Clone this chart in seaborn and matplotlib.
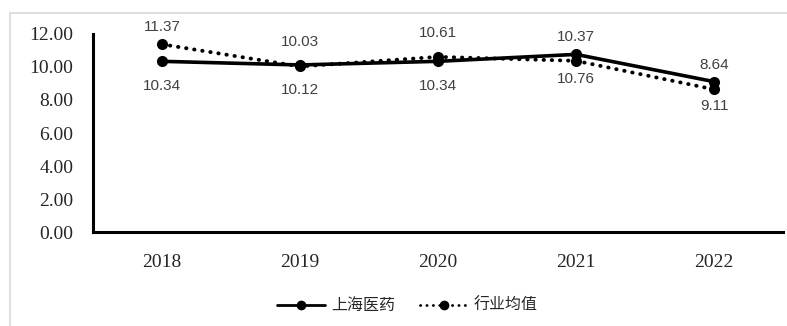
import numpy as np
import pandas as pd
import seaborn as sns
import matplotlib.pyplot as plt
from matplotlib.patches import Rectangle
from matplotlib.lines import Line2D

years = ['2018', '2019', '2020', '2021', '2022']
sh_pharma = [10.34, 10.12, 10.34, 10.76, 9.11]   # 上海医药
industry = [11.37, 10.03, 10.61, 10.37, 8.64]    # 行业均值
y_ticks = [0, 2, 4, 6, 8, 10, 12]

df = pd.DataFrame({'year': years * 2,
                   'value': sh_pharma + industry,
                   'series': ['上海医药'] * 5 + ['行业均值'] * 5})

sns.set_style('white')
plt.rcParams['font.family'] = ['Liberation Serif', 'DejaVu Sans']

fig = plt.figure(figsize=(7.87, 3.26), dpi=100)
ax = fig.add_axes([0.118, 0.288, 0.877, 0.608])

# light grey chart frame
fig.patches.append(Rectangle((0.0127, -0.2), 1.2, 1.16, transform=fig.transFigure,
                             fill=False, edgecolor='#d9d9d9', linewidth=1.2, zorder=0))

dotted = (0, (0.1, 2.0))
sns.lineplot(data=df[df.series == '上海医药'], x='year', y='value', ax=ax,
             color='black', linewidth=2.6, marker='o', markersize=8,
             markeredgewidth=0, legend=False, zorder=3)
sns.lineplot(data=df[df.series == '行业均值'], x='year', y='value', ax=ax,
             color='black', linewidth=2.8, marker='o', markersize=8,
             markeredgewidth=0, linestyle=dotted, dash_capstyle='round',
             legend=False, zorder=3)

# data labels: 上海医药 below, 行业均值 above (kept inside the chart area)
for i, v in enumerate(sh_pharma):
    ax.annotate(f'{v:.2f}', (i, v), xytext=(i, v - 1.5), textcoords='data',
                ha='center', va='center', fontsize=11, color='#404040',
                family='Liberation Sans', annotation_clip=False)
for i, v in enumerate(industry):
    ax.annotate(f'{v:.2f}', (i, v), xytext=(i, min(v + 1.45, 12.4)), textcoords='data',
                ha='center', va='center', fontsize=11, color='#404040',
                family='Liberation Sans', annotation_clip=False)

ax.set_xlim(-0.5, 4.5)
ax.set_ylim(0, 12)
ax.set_yticks(y_ticks)
ax.set_yticklabels([f'{t:.2f}' for t in y_ticks], fontsize=14)
ax.set_xticks(range(len(years)))
ax.set_xticklabels(years, fontsize=14)
ax.tick_params(axis='x', pad=16, length=0)
ax.tick_params(axis='y', pad=14, length=0)
ax.set_xlabel('')
ax.set_ylabel('')
for s in ['top', 'right']:
    ax.spines[s].set_visible(False)
for s in ['left', 'bottom']:
    ax.spines[s].set_color('black')
    ax.spines[s].set_linewidth(2.2)

handles = [Line2D([], [], color='black', linewidth=2.0, marker='o', markersize=7,
                  markeredgewidth=0),
           Line2D([], [], color='black', linewidth=2.0, marker='o', markersize=7,
                  markeredgewidth=0, linestyle=(0, (0.1, 2.2)), dash_capstyle='round')]
fig.legend(handles, ['上海医药', '行业均值'], loc='center', bbox_to_anchor=(0.518, 0.062),
           ncol=2, frameon=False, handlelength=3.0, columnspacing=1.6, handletextpad=0.35,
           prop={'family': ['Noto Sans CJK SC', 'DejaVu Sans'], 'size': 11.5})

fig.savefig('out.png', dpi=100)
